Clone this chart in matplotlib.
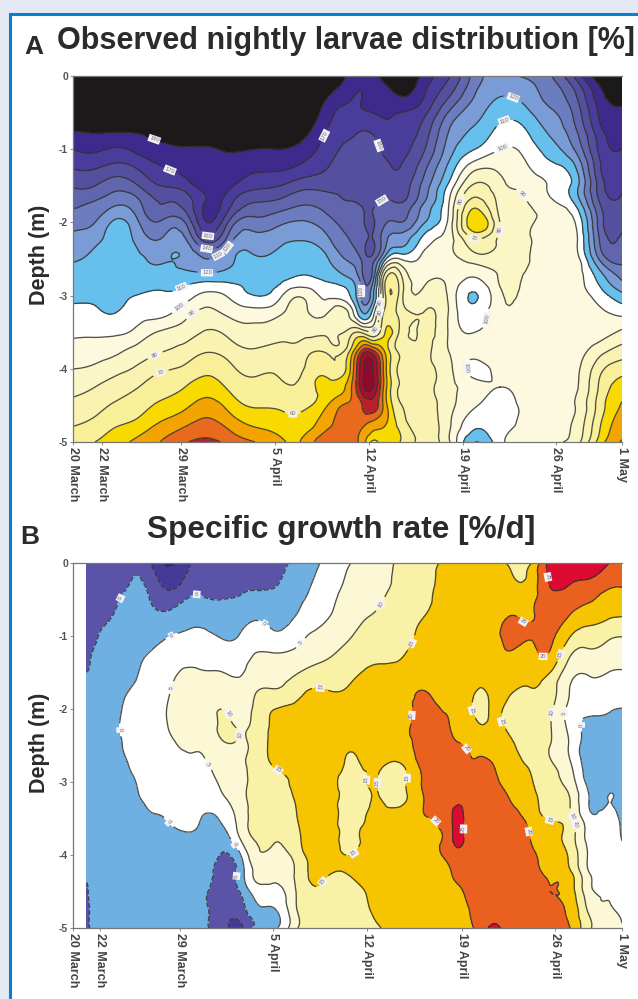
#!/usr/bin/env python3
"""
Larval distribution and growth rate depth/time contour panels
"""

import numpy as np
import matplotlib
matplotlib.use('Agg')
import matplotlib.pyplot as plt
import matplotlib.tri as mtri
from matplotlib.patches import Rectangle

plt.rcParams['font.family'] = ['Liberation Sans', 'DejaVu Sans']

W, H = 638, 999

DEPTHS = np.linspace(0, -5, 21)
DEPTH_TICKS = [0, -1, -2, -3, -4, -5]
DEPTH_LABELS = ['0', '-1', '-2', '-3', '-4', '-5']
DATE_LABELS = ['20 March', '22 March', '29 March', '5 April', '12 April', '19 April', '26 April', '1 May']
A_DATE_TICKS = [0, 2.2, 8.27, 15.45, 22.65, 29.85, 36.95, 42]
B_DATE_TICKS = [0, 2.07, 8.16, 15.3, 22.47, 29.77, 36.88, 42]

# Panel A, one row per sampling day, values going down through the depths
A_DAYS = [0, 1.68, 3.06, 4.74, 6.66, 8.57, 10.25, 12.01, 13.93, 15.84, 17.37, 19.28, 21.19,
          22.11, 22.88, 23.87, 25.02, 26.93, 28.84, 30.76, 32.67, 34.58, 36.5, 38.41, 40.32, 42]
A_VALUES = [
    [200, 195, 188, 180, 170, 161, 151, 142, 134, 127, 121, 116, 112, 107, 102, 96, 90, 84, 77, 71, 64],
    [200, 195, 188, 181, 172, 161, 150, 138, 130, 122, 118, 115, 112, 108, 102, 95, 88, 80, 74, 67, 60],
    [200, 195, 189, 181, 169, 157, 144, 132, 119, 117, 115, 114, 112, 110, 102, 93, 84, 76, 69, 62, 56],
    [200, 195, 189, 181, 172, 160, 148, 135, 126, 121, 117, 114, 110, 105, 98, 87, 79, 71, 65, 58, 48],
    [200, 196, 191, 184, 177, 169, 160, 150, 139, 129, 121, 115, 109, 103, 89, 81, 72, 65, 58, 49, 40],
    [200, 197, 192, 186, 179, 173, 165, 153, 140, 128, 122, 115, 105, 93, 85, 76, 68, 60, 52, 42, 31],
    [200, 197, 192, 186, 179, 177, 175, 172, 170, 153, 130, 115, 97, 87, 79, 71, 63, 55, 46, 37, 28],
    [200, 197, 193, 187, 181, 177, 172, 162, 147, 133, 122, 114, 102, 92, 83, 75, 68, 62, 54, 44, 33],
    [200, 197, 192, 187, 180, 172, 163, 149, 136, 125, 119, 114, 110, 95, 87, 79, 72, 67, 61, 52, 40],
    [200, 197, 192, 187, 180, 172, 160, 146, 132, 122, 117, 113, 102, 91, 83, 77, 72, 68, 62, 55, 48],
    [200, 196, 191, 185, 177, 168, 154, 141, 129, 120, 114, 109, 91, 86, 81, 76, 72, 68, 63, 57, 50],
    [192, 183, 176, 171, 166, 161, 153, 144, 135, 126, 118, 112, 102, 91, 82, 72, 64, 57, 52, 44, 33],
    [177, 172, 167, 162, 158, 155, 152, 149, 145, 140, 132, 121, 110, 92, 75, 60, 51, 43, 37, 35, 36],
    [172, 170, 169, 160, 157, 155, 153, 151, 149, 146, 142, 137, 132, 118, 72, 29, 14, 14, 30, 37, 44],
    [177, 174, 170, 161, 157, 155, 153, 152, 151.5, 151, 146, 138, 125, 107, 80, 28, 9, 8, 24, 43, 62],
    [183, 176, 172, 166, 162, 158, 152, 147, 141, 133, 113, 74, 72, 67, 60, 52, 46, 45, 45, 49, 52],
    [190, 181, 170, 166, 163, 160, 155, 149, 140, 125, 100, 76, 74, 73, 72, 72, 72, 71, 69, 64, 60],
    [176, 170, 162, 155, 150, 142, 135, 128, 120, 105, 97, 93, 86, 79, 78, 78, 78, 77, 76, 75, 74],
    [160, 151, 138, 129, 124, 116, 106, 98, 95, 93, 93, 93, 93, 92, 92, 91, 88, 87, 87, 89, 90],
    [135, 130, 124, 118, 110, 93, 78, 64, 51, 72, 85, 100, 111, 106, 100, 96, 103, 96, 99, 107, 120],
    [128, 121, 114, 107, 100, 92, 87, 83, 80, 82, 85, 89, 92, 93, 94, 94, 96, 100, 103, 104, 103],
    [131, 124, 117, 109, 103, 98, 92, 89, 87, 87, 88, 91, 93, 94, 94, 94, 95, 96, 98, 98, 97],
    [139, 134, 128, 122, 115, 107, 101, 98, 96, 95, 95, 95, 95, 95, 95, 94, 94, 94, 94, 93, 91],
    [162, 149, 143, 138, 131, 119, 115, 110.5, 100, 97, 95, 95, 95, 95, 95, 94, 93, 92, 90, 88, 85],
    [187, 177, 172, 167, 163, 159, 155, 150, 145, 141, 132, 115, 105, 98, 94, 84, 73, 68, 65, 61, 55],
    [190, 184, 179, 175, 170, 166, 161, 157, 152, 147, 143, 132, 117, 102, 88, 76, 64, 56, 49, 44, 39],
]
A_LEVELS = [0, 10, 20, 30, 40, 50, 60, 70, 80, 90, 100, 110, 120, 130, 140, 150, 160, 170, 180, 210]
A_COLORS = ['#8e0a2e', '#a90d2e', '#b8202a', '#e96a1c', '#f3a400', '#f8d900', '#f9ef98', '#faf2b0',
            '#fbf6c6', '#fdf9de', '#ffffff', '#66bfec', '#7a9cd6', '#6b7cbf', '#6065ae', '#54509f',
            '#4a3c9a', '#3d2a8c', '#1b1919']

# Panel B, same layout as panel A
B_DAYS = [1.07, 2.45, 3.98, 5.51, 7.27, 8.95, 10.1, 11.4, 12.78, 13.93, 15.46, 17.37, 19.28, 21.19, 23.11,
          25.02, 26.93, 28.84, 29.46, 29.99, 30.99, 31.91, 33.44, 34.97, 36.5, 38.03, 39.56, 40.93, 42]
B_VALUES = [
    [-8, -8, -8, -8, -7.5, -6, -5, -3, -3, -3, -3, -3, -3, -3, -3, -3, -3.5, -4.5, -5.2, -5.5, -5.5],
    [-8, -8, -7.5, -6, -4, -3, -3, -3, -3, -3, -3, -3, -3, -3, -3, -3, -3, -3, -3, -3, -3],
    [-7, -6, -4, -3, -3, -2.5, -2, -0.5, 0.5, 1, 0.5, -0.5, -2, -3, -3, -3, -3, -3, -3, -3, -3],
    [-8, -5.5, -4, -3, -2, -0.3, 1, 1.5, 2, 2, 2, 2, 1.5, 0.5, -1, -3, -3, -3, -3, -3, -3],
    [-16, -12, -7.5, -3.5, -0.2, 2, 3.5, 4.5, 5.3, 5, 3.5, 3, 2.5, 1.5, 0.3, -2, -3, -3, -3, -3, -3],
    [-10, -7.5, -4.5, -1.5, 0.8, 3, 5.8, 7, 7.5, 7, 5.8, 4.5, 3.5, 2.5, 1.5, -1, -3, -3, -3, -3, -3],
    [-8, -6.5, -4.7, -1.5, 0.8, 3, 5.3, 7, 7.5, 7, 6, 4.8, 3.5, 2, -0.5, -2.5, -3, -3.5, -4.5, -4.5, -4.5],
    [-8, -7, -5, -2.8, -0.4, 2.5, 5.1, 7.5, 10, 10.8, 9, 7, 5.8, 4, 0.8, -2.5, -5.3, -7, -7.5, -7.5, -7.5],
    [-7, -6, -4.5, -2, 0.3, 3, 4.5, 6.5, 8, 9.5, 9.5, 9.3, 8.5, 8, 7, 5.5, -0.5, -3, -4.8, -7.5, -11],
    [-8, -6, -3.5, -0.5, 2.5, 5.1, 7.5, 9.5, 11, 11.5, 11.5, 11.5, 11.5, 11.5, 11.3, 10.5, 8.5, 5.7, 2, -1.5, -4],
    [-6.5, -5.5, -3.5, -1.5, 0.8, 5.3, 8, 10.5, 15, 16, 16.5, 15.7, 13.5, 12, 11.3, 10.5, 8, 5.3, 3, -0.2, -0.8],
    [-3.5, -2, -0.7, 1, 3.8, 6.6, 10.1, 14, 16, 17, 17.5, 17.5, 17, 16.5, 15.8, 14.8, 13.5, 12.5, 11.8, 11.5, 11],
    [1, 2, 3, 4.4, 6.7, 9, 12.3, 15.2, 17, 18, 18.5, 18.5, 18, 18, 17.8, 17.3, 16.5, 15.5, 13.8, 13, 12.5],
    [4.9, 5.8, 7, 8.3, 9.7, 12, 14, 15.5, 17, 17, 16, 14.5, 13.5, 13.5, 13.7, 14.2, 15, 15.3, 13, 12.5, 12],
    [7.5, 8, 9, 10.6, 12.2, 14, 15.7, 17, 18, 18, 17, 16, 15.2, 15.2, 16, 17, 17.5, 17.5, 16.5, 15.7, 14],
    [10.7, 11, 12, 13, 14, 14.7, 16, 17.5, 18, 18, 17, 14.8, 13.5, 14, 16, 17, 18, 18, 18, 18, 18],
    [13, 13.5, 14, 15.2, 16, 16.5, 17.5, 20, 21.5, 22.5, 22.5, 22, 21, 20.3, 19.5, 18.5, 18, 18, 18, 18, 18],
    [16, 16.5, 17, 17.5, 17.5, 17.5, 17.5, 18, 19, 20, 21.5, 22.5, 23.5, 24, 24, 23.5, 21.5, 19.8, 19, 18.5, 18],
    [16, 16.5, 17, 17.5, 17.5, 17.5, 18, 18.5, 19, 19, 20.5, 22.5, 24, 24.9, 26.5, 26.5, 23, 20.8, 19.5, 19, 18.5],
    [16, 16.5, 17, 17.5, 18, 18, 17.5, 17.5, 18, 19, 19.8, 21, 23, 24.3, 24.5, 24.5, 23, 21.5, 20.3, 19.5, 19],
    [15.5, 16.5, 17, 17.5, 17.5, 17, 16, 14.8, 13.5, 16, 18.5, 20.5, 22, 23, 23.5, 23.5, 23.5, 23.5, 23, 22, 21],
    [16, 17, 17, 17.5, 17.5, 17, 16.5, 15.8, 15.2, 16, 18, 20.3, 21.5, 23, 24, 24, 24, 24.5, 24.5, 24.5, 25.5],
    [14.3, 16, 17.5, 20.3, 21.5, 19.5, 17, 15.5, 14, 14, 15.7, 17, 18.5, 20, 22, 23, 23.5, 23.5, 23.5, 23.5, 23],
    [14.3, 16.5, 18, 19.5, 20.5, 18.5, 16.5, 14.8, 13.5, 12.5, 13, 14.2, 15.7, 17, 18.5, 19.9, 21.5, 22.5, 23, 23, 23],
    [26.5, 25.5, 24, 22.5, 21, 19.5, 15, 12.5, 11, 10.3, 10, 10.5, 11.5, 13, 14.5, 16, 17.5, 18.8, 20, 21, 21.5],
    [26, 25.5, 22.5, 19.3, 15.2, 10.5, 6.8, 4.8, 3.5, 3.5, 4.3, 5.5, 7.5, 10, 11.5, 12.5, 14, 16, 17.5, 18.7, 20],
    [26.5, 24.5, 20.5, 16.8, 12.7, 9, 5.7, 3.5, 1.5, -1.5, -3, -3, -2, -0.3, 1.5, 3, 4, 4.8, 6.2, 8.5, 10.5],
    [25.2, 22, 18, 15.3, 11, 8, 5, 2.5, 0.5, -1.5, -3, -3, -2, 0, 2, 2.5, 3, 3.5, 4.5, 5.5, 7],
    [24, 21, 18.5, 14.7, 10.2, 7, 4.5, 2, -0.1, -1.5, -2.5, -3, -2.5, -2, -1.5, -0.4, 1, 2, 3, 4, 5],
]
B_LEVELS = [-20, -15, -10, -5, 0, 5, 10, 15, 20, 25, 30]
B_COLORS = ['#2a2180', '#463a99', '#5a53a8', '#6fb0e2', '#ffffff', '#fcf7d4', '#f9f1a6', '#f6c400',
            '#e9601f', '#dc0a30']

# label spots in picture pixels
A_SPOTS = [(155, 137), (171, 167), (208, 235), (207, 247), (227, 247), (222, 262), (207, 273), (182, 289),
           (180, 307), (195, 317), (155, 355), (161, 373), (293, 416), (323, 135), (377, 146), (370, 181),
           (362, 291), (380, 302), (379, 312), (376, 330), (513, 98), (505, 123), (503, 148), (458, 200),
           (520, 197), (500, 230), (473, 241), (491, 320), (465, 368)]
B_SPOTS = [(120, 598), (197, 592), (172, 637), (264, 624), (120, 730), (168, 823), (173, 688), (303, 645),
           (238, 707), (241, 735), (207, 765), (237, 843), (237, 876), (382, 605), (410, 642), (320, 690),
           (409, 715), (465, 750), (519, 628), (543, 578), (543, 655), (563, 655), (480, 708), (500, 722),
           (355, 855), (367, 780), (386, 782), (403, 778), (432, 825), (465, 829), (526, 832), (549, 823),
           (571, 817), (578, 822), (582, 725), (275, 775), (318, 878), (552, 713), (562, 713)]

A_BOX = (73, 76, 622, 442)
B_BOX = (73, 563, 622, 928)


def add_panel(box, days, values, levels, colors, date_ticks, spots, label_size):
    left, top, right, bottom = box
    ax = fig.add_axes([left / W, 1 - bottom / H, (right - left) / W, (bottom - top) / H])
    ax.patch.set_alpha(0)
    xx, yy = np.meshgrid(days, DEPTHS)
    z = np.array(values, dtype=float).T

    # let matplotlib's refiner round off the contour lines between the grid nodes
    tri = mtri.Triangulation(xx.ravel(), yy.ravel())
    fine_tri, fine_z = mtri.UniformTriRefiner(tri).refine_field(z.ravel(), subdiv=3)
    fine_z = np.clip(fine_z, levels[0] + 0.01, levels[-1] - 0.01)
    ax.tricontourf(fine_tri, fine_z, levels=levels, colors=colors)
    cs = ax.tricontour(fine_tri, fine_z, levels=levels[1:-1], colors='#33332c', linewidths=0.95, alpha=0.85)
    ax.set_xlim(0, 42)
    ax.set_ylim(-5, 0)

    # label positions come from the picture, convert to data
    pts = [((px - left) / (right - left) * 42, -(py - top) / (bottom - top) * 5) for px, py in spots]
    labels = ax.clabel(cs, manual=pts, inline=True, fontsize=label_size, fmt='%d', colors='#555555')
    for t in labels:
        t.set_bbox(dict(boxstyle='square,pad=0.2', fc='#f4f2f6', ec='none'))

    ax.set_yticks(DEPTH_TICKS)
    ax.set_yticklabels(DEPTH_LABELS, fontsize=7.5, fontweight='bold', color='#555555')
    ax.set_xticks(date_ticks)
    ax.set_xticklabels(DATE_LABELS, rotation=-90, fontsize=9, fontweight='bold', color='#444444',
                       ha='center', va='top')
    ax.tick_params(axis='both', length=2, width=0.6, color='#777777', pad=1.5)
    ax.spines['right'].set_visible(False)
    for side in ['left', 'top', 'bottom']:
        ax.spines[side].set_color('#777777')
        ax.spines[side].set_linewidth(0.9)
    return ax


fig = plt.figure(figsize=(W / 100, H / 100), dpi=100, facecolor='#e4e9f3')

# white card with the blue border, runs off the right and bottom edges
fig.add_artist(Rectangle((10 / W, -0.01), 1.0, 1 - 14 / H + 0.01, transform=fig.transFigure,
                         fc='white', ec='#0a7fd0', lw=2.2, zorder=-1))

add_panel(A_BOX, A_DAYS, A_VALUES, A_LEVELS, A_COLORS, A_DATE_TICKS, A_SPOTS, 4.2)
add_panel(B_BOX, B_DAYS, B_VALUES, B_LEVELS, B_COLORS, B_DATE_TICKS, B_SPOTS, 4.2)

TITLE = dict(fontweight='bold', color='#2b2b2b', ha='left', va='center')
fig.text(57 / W, 1 - 41 / H, 'Observed nightly larvae distribution [%]', fontsize=22, **TITLE)
fig.text(147 / W, 1 - 530 / H, 'Specific growth rate [%/d]', fontsize=22.8, **TITLE)
fig.text(24 / W, 1 - 47 / H, 'A', fontsize=19, **TITLE)
fig.text(20 / W, 1 - 537 / H, 'B', fontsize=19, **TITLE)
for yc in [255, 743]:
    fig.text(40 / W, 1 - yc / H, 'Depth (m)', fontsize=15.5, fontweight='bold', color='#2b2b2b',
             rotation=90, ha='center', va='center')

fig.savefig('out.png', dpi=100, facecolor=fig.get_facecolor())
